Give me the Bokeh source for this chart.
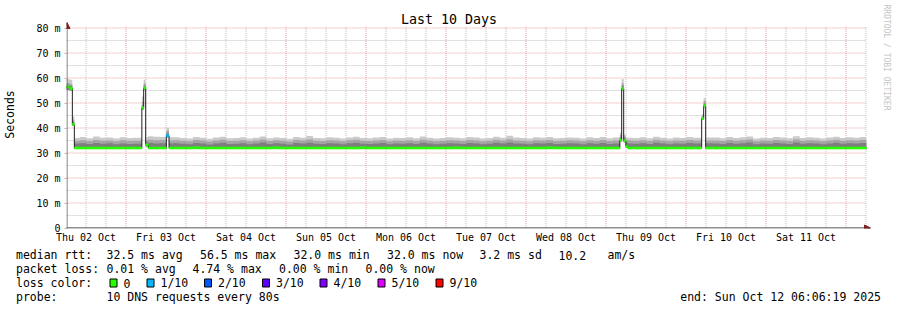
import datetime as dt
from math import pi

from bokeh.plotting import figure
from bokeh.layouts import column
from bokeh.models import (Range1d, FixedTicker, Label, Arrow, NormalHead, ColumnDataSource)
from bokeh.core.properties import value
from bokeh.embed import file_html
from bokeh.resources import INLINE

# ---------------- data ----------------
END = dt.datetime(2025, 10, 12, 6, 6, 19)
START = END - dt.timedelta(days=10)
START_H = START.hour + START.minute / 60 + START.second / 3600   # hours after Oct 2 00:00
SPAN_H = 240.0

# bin start, hours after graph start
bin_start_h = [
    0.0, 0.9, 1.8, 2.4,
    4, 6, 8, 10, 12, 14, 16, 18, 20,
    22.65, 23.2, 23.8, 24.6, 26, 28, 30.0, 30.8,
    32, 34, 36, 38, 40, 42, 44, 46, 48, 50,
    52, 54, 56, 58, 60, 62, 64, 66, 68, 70,
    72, 74, 76, 78, 80, 82, 84, 86, 88, 90,
    92, 94, 96, 98, 100, 102, 104, 106, 108, 110,
    112, 114, 116, 118, 120, 122, 124, 126, 128, 130,
    132, 134, 136, 138, 140, 142, 144, 146, 148, 150,
    152, 154, 156, 158, 160, 162, 164,
    166.05, 166.6, 167.2, 167.85, 168.45,
    170, 172, 174, 176, 178, 180, 182, 184, 186, 188,
    190.6, 191.2, 191.8,
    194, 196, 198, 200, 202, 204, 206, 208, 210, 212,
    214, 216, 218, 220, 222, 224, 226, 228, 230, 232,
    234, 236, 238,
]

median_ms = [
    56.5, 55.8, 41.4, 32.0,
    32.0, 32.0, 32.0, 32.0, 32.0, 32.0, 32.0, 32.0, 32.0,
    48.1, 56.0, 33.3, 32.0, 32.0, 32.0, 36.9, 32.0,
    32.0, 32.0, 32.0, 32.1, 32.0, 32.0, 32.0, 32.0, 32.0, 32.0,
    32.0, 32.0, 32.0, 32.0, 32.0, 32.1, 32.0, 32.0, 32.0, 32.0,
    32.0, 32.0, 32.0, 32.0, 32.0, 32.0, 32.0, 32.0, 32.1, 32.0,
    32.0, 32.0, 32.0, 32.0, 32.0, 32.0, 32.0, 32.0, 32.0, 32.0,
    32.0, 32.0, 32.1, 32.0, 32.0, 32.0, 32.0, 32.0, 32.0, 32.0,
    32.0, 32.0, 32.0, 32.0, 32.0, 32.0, 32.1, 32.0, 32.0, 32.0,
    32.0, 32.0, 32.0, 32.0, 32.0, 32.0, 32.0,
    35.1, 55.8, 34.9, 32.7, 32.0,
    32.0, 32.0, 32.0, 32.0, 32.0, 32.0, 32.0, 32.0, 32.0, 32.0,
    43.8, 48.9, 32.0,
    32.0, 32.0, 32.0, 32.0, 32.0, 32.0, 32.0, 32.0, 32.0, 32.0,
    32.0, 32.0, 32.0, 32.0, 32.0, 32.0, 32.0, 32.0, 32.0, 32.0,
    32.0, 32.0, 32.0,
]

rtt_min_ms = [
    55.2, 55.0, 40.9, 31.7,
    31.7, 31.7, 31.7, 31.7, 31.7, 31.7, 31.7, 31.7, 31.7,
    47.4, 55.3, 32.6, 31.7, 31.7, 31.7, 36.3, 31.7,
    31.7, 31.7, 31.7, 31.7, 31.7, 31.7, 31.7, 31.7, 31.7, 31.7,
    31.7, 31.7, 31.7, 31.7, 31.7, 31.7, 31.7, 31.7, 31.7, 31.7,
    31.7, 31.7, 31.7, 31.7, 31.7, 31.7, 31.7, 31.7, 31.7, 31.7,
    31.7, 31.7, 31.7, 31.7, 31.7, 31.7, 31.7, 31.7, 31.7, 31.7,
    31.7, 31.7, 31.7, 31.7, 31.7, 31.7, 31.7, 31.7, 31.7, 31.7,
    31.7, 31.7, 31.7, 31.7, 31.7, 31.7, 31.7, 31.7, 31.7, 31.7,
    31.7, 31.7, 31.7, 31.7, 31.7, 31.7, 31.7,
    34.6, 55.1, 34.3, 32.2, 31.7,
    31.7, 31.7, 31.7, 31.7, 31.7, 31.7, 31.7, 31.7, 31.7, 31.7,
    43.3, 48.3, 31.7,
    31.7, 31.7, 31.7, 31.7, 31.7, 31.7, 31.7, 31.7, 31.7, 31.7,
    31.7, 31.7, 31.7, 31.7, 31.7, 31.7, 31.7, 31.7, 31.7, 31.7,
    31.7, 31.7, 31.7,
]

rtt_p65_ms = [
    57.2, 56.8, 42.3, 33.8,
    33.9, 33.6, 34.0, 33.7, 33.9, 33.5, 33.8, 33.6, 33.7,
    49.0, 56.9, 34.3, 34.0, 33.8, 33.9, 37.9, 33.8,
    33.9, 33.7, 33.5, 34.0, 33.8, 33.4, 33.8, 34.1, 33.6, 33.7,
    33.9, 33.5, 33.8, 34.2, 33.6, 33.9, 33.7, 33.4, 34.0, 33.8,
    34.1, 33.7, 33.6, 33.9, 33.8, 33.5, 33.9, 34.1, 33.7, 33.6,
    33.8, 34.0, 33.5, 33.8, 33.7, 33.9, 33.6, 34.1, 33.8, 33.5,
    33.7, 33.9, 33.8, 33.6, 34.0, 33.8, 33.5, 33.7, 34.1, 33.8,
    34.2, 33.8, 33.7, 33.5, 33.9, 33.8, 34.0, 33.6, 33.7, 33.9,
    33.8, 33.5, 33.9, 33.7, 34.0, 33.6, 33.8,
    36.3, 56.9, 35.8, 34.2, 33.8,
    33.7, 33.9, 33.6, 34.1, 33.8, 33.5, 33.8, 33.7, 34.0, 33.8,
    44.3, 49.8, 33.9,
    33.8, 33.6, 34.0, 33.7, 33.9, 34.2, 33.5, 33.8, 33.7, 34.0,
    33.8, 33.6, 34.2, 33.7, 33.9, 33.8, 33.5, 33.8, 34.1, 33.7,
    33.9, 33.8, 34.0,
]

rtt_p80_ms = [
    58.0, 57.6, 43.3, 34.9,
    35.1, 34.8, 35.2, 34.9, 35.0, 34.7, 35.1, 34.9, 34.9,
    50.5, 57.8, 35.1, 35.3, 35.1, 35.2, 38.9, 35.0,
    35.1, 34.9, 34.7, 35.2, 35.0, 34.6, 35.0, 35.3, 34.8, 34.9,
    35.1, 34.7, 35.0, 35.4, 34.8, 35.1, 34.9, 34.6, 35.2, 35.0,
    35.4, 34.9, 34.8, 35.1, 35.0, 34.7, 35.1, 35.3, 34.9, 34.8,
    35.0, 35.2, 34.7, 35.0, 34.9, 35.1, 34.8, 35.3, 35.0, 34.7,
    34.9, 35.1, 35.0, 34.8, 35.2, 35.0, 34.7, 34.9, 35.3, 35.0,
    35.5, 35.0, 34.9, 34.7, 35.1, 35.0, 35.2, 34.8, 34.9, 35.1,
    35.0, 34.7, 35.1, 34.9, 35.2, 34.8, 35.0,
    37.2, 57.9, 36.6, 35.2, 35.0,
    34.9, 35.1, 34.8, 35.3, 35.0, 34.7, 35.0, 34.9, 35.2, 35.0,
    44.9, 50.8, 35.0,
    35.0, 34.8, 35.2, 34.9, 35.1, 35.4, 34.7, 35.0, 34.9, 35.2,
    35.0, 34.8, 35.4, 34.9, 35.1, 35.0, 34.7, 35.0, 35.3, 34.9,
    35.1, 35.0, 35.2,
]

rtt_max_ms = [
    59.6, 59.3, 44.6, 36.0,
    36.4, 35.9, 36.6, 36.1, 36.2, 35.8, 36.3, 36.0, 36.1,
    52.6, 59.3, 36.4, 36.7, 36.5, 36.4, 40.1, 36.3,
    36.3, 36.0, 35.8, 36.4, 36.1, 35.7, 36.2, 36.5, 35.9, 36.0,
    36.3, 35.8, 36.1, 36.6, 35.9, 36.2, 36.0, 35.7, 36.4, 36.1,
    36.8, 36.0, 35.9, 36.3, 36.1, 35.8, 36.2, 36.5, 36.0, 35.9,
    36.2, 36.4, 35.8, 36.1, 36.0, 36.3, 35.9, 36.6, 36.1, 35.8,
    36.0, 36.3, 36.1, 35.9, 36.4, 36.2, 35.8, 36.0, 36.5, 36.1,
    36.9, 36.2, 36.0, 35.8, 36.3, 36.1, 36.4, 35.9, 36.0, 36.2,
    36.1, 35.8, 36.3, 36.0, 36.4, 35.9, 36.2,
    38.2, 59.6, 37.4, 36.2, 36.1,
    36.0, 36.3, 35.9, 36.5, 36.1, 35.8, 36.2, 36.0, 36.4, 36.1,
    45.6, 52.0, 36.2,
    36.2, 35.9, 36.4, 36.0, 36.3, 36.6, 35.8, 36.1, 36.0, 36.4,
    36.2, 35.9, 36.7, 36.0, 36.3, 36.1, 35.8, 36.2, 36.5, 36.0,
    36.3, 36.1, 36.4,
]

loss_tenths = [
    0, 0, 0, 0,
    0, 0, 0, 0, 0, 0, 0, 0, 0,
    0, 0, 0, 0, 0, 0, 1, 0,
    0, 0, 0, 0, 0, 0, 0, 0, 0, 0,
    0, 0, 0, 0, 0, 0, 0, 0, 0, 0,
    0, 0, 0, 0, 0, 0, 0, 0, 0, 0,
    0, 0, 0, 0, 0, 0, 0, 0, 0, 0,
    0, 0, 0, 0, 0, 0, 0, 0, 0, 0,
    0, 0, 0, 0, 0, 0, 0, 0, 0, 0,
    0, 0, 0, 0, 0, 0, 0,
    0, 0, 0, 0, 0,
    0, 0, 0, 0, 0, 0, 0, 0, 0, 0,
    0, 0, 0,
    0, 0, 0, 0, 0, 0, 0, 0, 0, 0,
    0, 0, 0, 0, 0, 0, 0, 0, 0, 0,
    0, 0, 0,
]

loss_levels = [0, 1, 2, 3, 4, 5, 9]
loss_names = ["0", "1/10", "2/10", "3/10", "4/10", "5/10", "9/10"]
loss_colors = ["#26ff00", "#00b8ff", "#0059ff", "#5e00ff", "#7e00ff", "#dd00ff", "#ff0000"]

day_labels = ["Thu 02 Oct", "Fri 03 Oct", "Sat 04 Oct", "Sun 05 Oct", "Mon 06 Oct",
              "Tue 07 Oct", "Wed 08 Oct", "Thu 09 Oct", "Fri 10 Oct", "Sat 11 Oct"]
y_ticks = [0, 10, 20, 30, 40, 50, 60, 70, 80]
y_tick_labels = ["0", "10 m", "20 m", "30 m", "40 m", "50 m", "60 m", "70 m", "80 m"]
y_minor = [5, 15, 25, 35, 45, 55, 65, 75]

title_text = "Last 10 Days"
y_title = "Seconds"
watermark = "RRDTOOL / TOBI OETIKER"
median_row = ["median rtt:", "32.5 ms avg", "56.5 ms max", "32.0 ms min", "32.0 ms now",
              "3.2 ms sd", "10.2", "am/s"]
loss_row = ["packet loss:", "0.01 % avg", "4.74 % max", "0.00 % min", "0.00 % now"]
color_row_title = "loss color:"
probe_row = ["probe:", "10 DNS requests every 80s"]
end_text = "end: " + END.strftime("%a %b %d %H:%M:%S %Y")

# ---------------- layout constants ----------------
W = 897
H1 = 248                 # main figure height
H2 = 310 - H1            # legend strip height
FL = 66                  # frame left
FB = 228                 # frame bottom (x axis)
PX_PER_H = 800 / SPAN_H  # 80 px per day
PX_PER_MS = 2.5
MONO = "DejaVu Sans Mono"

# x range chosen so that day boundaries fall on pixel centres
x0 = 24 - 59.5 / PX_PER_H
x1 = x0 + (W - FL) / PX_PER_H
y0 = -0.5 / PX_PER_MS
y1 = y0 + FB / PX_PER_MS

# ---------------- derived series ----------------
x_edges = [START_H + t for t in bin_start_h] + [START_H + SPAN_H]
x_left = x_edges[:-1]
x_right = x_edges[1:]


def ext(a):
    return list(a) + [a[-1]]


color_of = dict(zip(loss_levels, loss_colors))
band = ColumnDataSource(dict(
    left=x_left, right=x_right,
    bottom=[m - 0.4 for m in median_ms], top=[m + 0.4 for m in median_ms],
    color=[color_of[l] for l in loss_tenths],
))

p = figure(width=W, height=H1, output_backend="svg", toolbar_location=None,
           x_range=Range1d(x0, x1), y_range=Range1d(y0, y1),
           min_border_left=FL, min_border_right=0, min_border_top=0,
           min_border_bottom=H1 - FB,
           background_fill_color="white", border_fill_color="white",
           outline_line_color=None)
p.frame_align = False
p.title.visible = False
p.grid.visible = False

# grid lines (RRDtool style dotted), limited to the graph area
x_start, x_end = START_H, START_H + SPAN_H
midnights = [24 * k for k in range(1, 11)]
six_h = [6 * k for k in range(2, 42) if (6 * k) % 24 != 0]
noons = [12 + 24 * k for k in range(10)]
GRID_MAJOR = "#e0a4a4"
GRID_MINOR = "#c2c2c2"
p.segment(x0=[x_start] * len(y_minor), x1=[x_end] * len(y_minor), y0=y_minor, y1=y_minor,
          line_color=GRID_MINOR, line_dash="1 1", line_width=1)
p.segment(x0=six_h, x1=six_h, y0=[0] * len(six_h), y1=[80.6] * len(six_h),
          line_color=GRID_MINOR, line_dash="1 1", line_width=1)
p.segment(x0=[x_start] * 8, x1=[x_end] * 8, y0=y_ticks[1:], y1=y_ticks[1:],
          line_color=GRID_MAJOR, line_dash="1 1", line_width=1)
p.segment(x0=midnights, x1=midnights, y0=[0] * len(midnights), y1=[80.6] * len(midnights),
          line_color=GRID_MAJOR, line_dash="1 1", line_width=1)

# smoke (SmokePing-like nested bands)
p.varea_step(x=x_edges, y1=ext(rtt_min_ms), y2=ext(rtt_max_ms), step_mode="after", fill_color="#cacaca")
p.varea_step(x=x_edges, y1=ext(rtt_min_ms), y2=ext(rtt_p80_ms), step_mode="after", fill_color="#a4a4a4")
p.varea_step(x=x_edges, y1=ext(rtt_min_ms), y2=ext(rtt_p65_ms), step_mode="after", fill_color="#7e7e7e")

# median line + loss coloured band
p.step(x=x_edges, y=ext(median_ms), mode="after", line_color="#202020", line_width=1)
p.quad(left="left", right="right", bottom="bottom", top="top", source=band,
       fill_color="color", line_color="color", line_width=0.6)

# axes
xa = p.xaxis[0]
xa.ticker = FixedTicker(ticks=noons)
xa.major_label_overrides = {n: lab for n, lab in zip(noons, day_labels)}
xa.axis_line_color = None
xa.major_tick_line_color = None
xa.minor_tick_line_color = None
xa.major_tick_in = 0
xa.major_tick_out = 0
xa.minor_tick_in = 0
xa.minor_tick_out = 0
xa.major_label_standoff = 3
xa.major_label_text_font = MONO
xa.major_label_text_font_size = "10px"
xa.major_label_text_color = "#000000"

ya = p.yaxis[0]
ya.ticker = FixedTicker(ticks=y_ticks)
ya.major_label_overrides = {v: lab for v, lab in zip(y_ticks, y_tick_labels)}
ya.axis_line_color = None
ya.major_tick_line_color = GRID_MAJOR
ya.major_tick_in = 0
ya.major_tick_out = 2
ya.minor_tick_line_color = None
ya.minor_tick_out = 0
ya.major_label_standoff = 4
ya.major_label_text_font = MONO
ya.major_label_text_font_size = "10px"
ya.major_label_text_color = "#000000"
ya.axis_label = y_title
ya.axis_label_text_font = MONO
ya.axis_label_text_font_size = "11.5px"
ya.axis_label_text_font_style = "normal"
ya.axis_label_text_color = "#000000"
ya.axis_label_standoff = 16

# axis lines with arrows (screen units relative to the frame's bottom-left)
AX = "#202020"
AR = "#7f1f1f"
p.add_layout(Arrow(end=NormalHead(size=6, fill_color=AR, line_color=AR),
                   x_start=-3, y_start=0.5, x_end=870 - FL, y_end=0.5,
                   start_units="screen", end_units="screen", line_color=AX, line_width=1))
p.add_layout(Arrow(end=NormalHead(size=6, fill_color=AR, line_color=AR),
                   x_start=0.5, y_start=-3, x_end=0.5, y_end=FB - 22,
                   start_units="screen", end_units="screen", line_color="#606060", line_width=1))

# title and watermark inside the (tall) frame
p.add_layout(Label(x=448.5 - FL, y=FB - 19, x_units="screen", y_units="screen",
                   text=title_text, text_font=MONO, text_font_size="13.3px",
                   text_align="center", text_baseline="middle", text_color="#000000"))
p.add_layout(Label(x=886 - FL, y=FB - 4, x_units="screen", y_units="screen",
                   text=watermark, text_font=MONO, text_font_size="8px", angle=-pi / 2,
                   text_align="left", text_baseline="middle", text_color="#c4c4c4"))

# ---------------- legend strip (canvas pixel coordinates) ----------------
q = figure(width=W, height=H2, output_backend="svg", toolbar_location=None,
           x_range=Range1d(0, W), y_range=Range1d(310, H1),
           x_axis_type=None, y_axis_type=None,
           min_border_left=0, min_border_right=0, min_border_top=0, min_border_bottom=0,
           background_fill_color="white", border_fill_color="white",
           outline_line_color=None)
q.frame_align = False
q.title.visible = False
q.grid.visible = False

rows_y = [254.5, 268.5, 282.5, 296.5]
t_x, t_y, t_s, t_a = [], [], [], []


def add(text, cx, cy, align="left"):
    t_x.append(cx)
    t_y.append(cy)
    t_s.append(text)
    t_a.append(align)


for text, cx in zip(median_row, [15.5, 106, 199.5, 293, 386.5, 479, 558, 607]):
    add(text, cx, rows_y[0])
for text, cx in zip(loss_row, [15.5, 106, 192, 278.5, 365]):
    add(text, cx, rows_y[1])
add(color_row_title, 15.5, rows_y[2])
box_x = [109, 146, 203.5, 261.5, 319, 377, 435]
for bx, name in zip(box_x, loss_names):
    add(name, bx + 14, rows_y[2])
for text, cx in zip(probe_row, [15.5, 106]):
    add(text, cx, rows_y[3])
add(end_text, 880.5, rows_y[3], "right")

q.quad(left=[b + 0.5 for b in box_x], right=[b + 7.5 for b in box_x],
       top=[278.5] * len(box_x), bottom=[286.5] * len(box_x),
       fill_color=loss_colors, line_color="#000000", line_width=1)
q.text(x=t_x, y=t_y, text=t_s, text_align=t_a, text_baseline="middle",
       text_font=value(MONO), text_font_size=value("11.5px"), text_color="#000000")

layout = column(p, q, spacing=0)
open("out.html", "w").write(file_html(layout, INLINE))
